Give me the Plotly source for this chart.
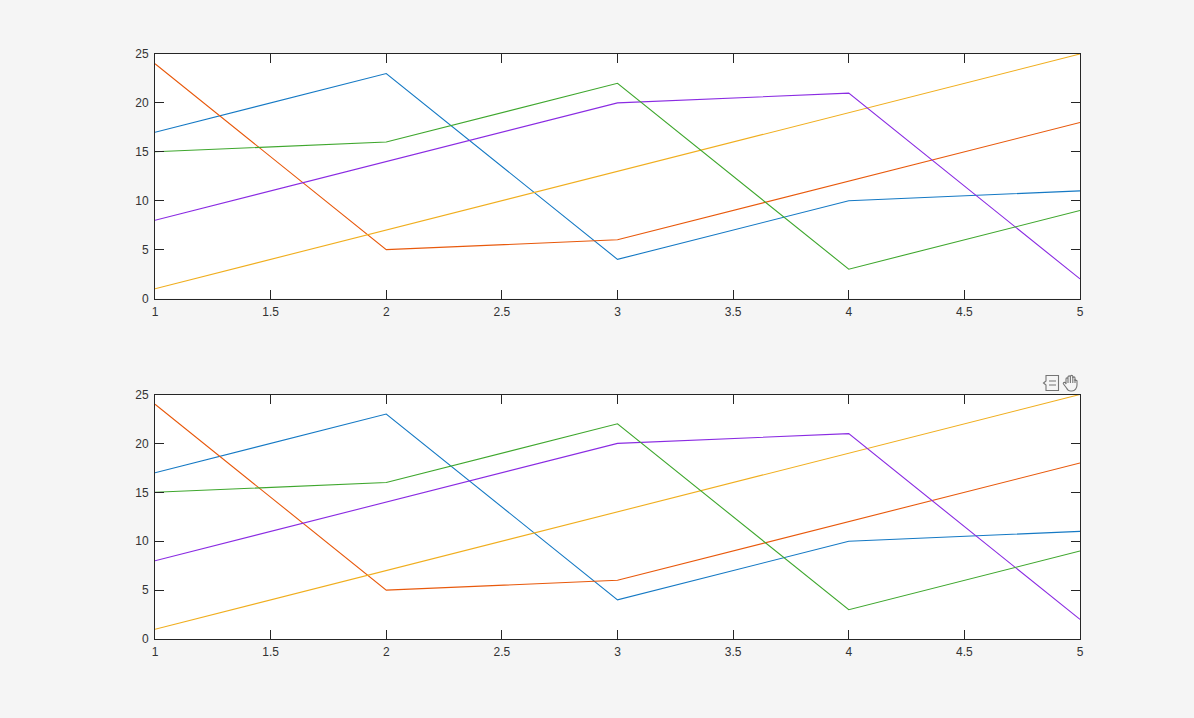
import base64
import plotly.graph_objects as go
from plotly.subplots import make_subplots

x_values = [1, 2, 3, 4, 5]
series_a = [17, 23, 4, 10, 11]
series_b = [24, 5, 6, 12, 18]
series_c = [1, 7, 13, 19, 25]
series_d = [8, 14, 20, 21, 2]
series_e = [15, 16, 22, 3, 9]
all_series = [series_a, series_b, series_c, series_d, series_e]
colors = ["#1579C4", "#E8590C", "#F0AE1E", "#8A2BE2", "#3FA72E"]
x_ticks = [1, 1.5, 2, 2.5, 3, 3.5, 4, 4.5, 5]
x_labels = ["1", "1.5", "2", "2.5", "3", "3.5", "4", "4.5", "5"]
y_ticks = [0, 5, 10, 15, 20, 25]

W, H = 1194, 718
L, R = 155, 1080
T1, B1 = 54, 298.5
T2, B2 = 394.5, 639

fig = make_subplots(rows=2, cols=1)
for row in (1, 2):
    for ys, c in zip(all_series, colors):
        fig.add_trace(go.Scatter(x=x_values, y=ys, mode="lines", line=dict(color=c, width=1.1),
                                 showlegend=False, hoverinfo="skip", cliponaxis=False), row=row, col=1)

axis_font = dict(family="Liberation Sans, Arial, sans-serif", size=12, color="#333333")
common = dict(showgrid=False, zeroline=False, showline=True, linecolor="#262626", linewidth=1,
              mirror="ticks", ticks="inside", ticklen=9, tickwidth=1, tickcolor="#262626",
              tickfont=axis_font, automargin=False)
for row in (1, 2):
    fig.update_xaxes(range=[1, 5], tickvals=x_ticks, ticktext=x_labels, ticklabelstandoff=2,
                     row=row, col=1, **common)
    fig.update_yaxes(range=[0, 25], tickvals=y_ticks, ticklabelstandoff=3, row=row, col=1, **common)

fig.update_layout(
    width=W, height=H, autosize=False, paper_bgcolor="#F5F5F5", plot_bgcolor="#FFFFFF",
    margin=dict(l=0, r=0, t=0, b=0, pad=0),
    xaxis=dict(domain=[L / W, R / W]), xaxis2=dict(domain=[L / W, R / W]),
    yaxis=dict(domain=[1 - B1 / H, 1 - T1 / H]), yaxis2=dict(domain=[1 - B2 / H, 1 - T2 / H]),
)

icon = """<svg xmlns='http://www.w3.org/2000/svg' width='44' height='20' viewBox='0 0 44 20'>
<g fill='none' stroke='#757575' stroke-width='1.1'>
<path d='M4 2.5H16.5V17.5H4V12L1.5 10L4 8Z'/><path d='M7 8H14M7 12H14'/>
<path d='M24 11V6c0-1.5 2-1.5 2 0V4c0-1.5 2.4-1.5 2.4 0V3.5c0-1.5 2.4-1.5 2.4 0V5c0-1.5 2.2-1.5 2.2 0v3c0-1 2-1 2 0v4c0 3-2 6-5 6h-1.5c-2 0-3-1-4-3l-3-4c-.8-1.2 1-2.3 2-1.2Z'/>
<path d='M26 6V10M28.4 4V10M30.8 4V10M33 6V10'/>
</g></svg>"""
uri = "data:image/svg+xml;base64," + base64.b64encode(icon.encode()).decode()
fig.add_layout_image(source=uri, xref="paper", yref="paper", x=1042 / W, y=1 - 373 / H,
                     sizex=44 / W, sizey=20 / H, xanchor="left", yanchor="top", layer="above",
                     sizing="contain")

fig.write_html("out.html", config={"displayModeBar": False}, post_script=
    "document.body.style.margin='0';document.body.style.background='#F5F5F5';document.body.style.overflow='hidden';")
